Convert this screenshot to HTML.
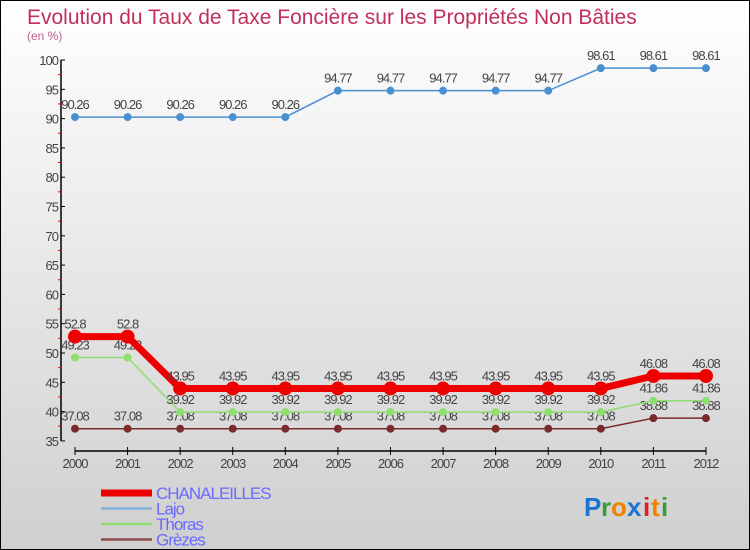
<!DOCTYPE html>
<html><head><meta charset="utf-8"><style>
body{margin:0;}
#c{position:relative;width:748px;height:548px;border:1px solid #000;background:linear-gradient(#ffffff,#cfcfcf);overflow:hidden;font-family:"Liberation Sans",sans-serif;}
</style></head><body>
<div id="c">
<svg id="s" width="748" height="548" style="position:absolute;left:0;top:0">
<text x="26" y="23" font-size="21" fill="#c0305a">Evolution du Taux de Taxe Foncière sur les Propriétés Non Bâties</text>
<text x="26" y="39" font-size="12" fill="#c0608a">(en %)</text>
<g id="axes"></g><g id="series"></g><g id="legend"></g>
<g font-size="26" font-weight="bold" font-family="Liberation Sans, sans-serif">
<text x="583" y="515" fill="#1a74d0">P</text><text x="600" y="515" fill="#3a9a3a">r</text><text x="610" y="515" fill="#f08000">o</text><text x="626" y="515" fill="#1a74d0">x</text><text x="642" y="515" fill="#e02020">i</text><text x="650" y="515" fill="#f08000">t</text><text x="660" y="515" fill="#3a9a3a">i</text>
</g>
</svg>
</div>
<script>
const years=[2000,2001,2002,2003,2004,2005,2006,2007,2008,2009,2010,2011,2012];
const chanaleilles=[52.8,52.8,43.95,43.95,43.95,43.95,43.95,43.95,43.95,43.95,43.95,46.08,46.08];
const lajo=[90.26,90.26,90.26,90.26,90.26,94.77,94.77,94.77,94.77,94.77,98.61,98.61,98.61];
const thoras=[49.23,49.23,39.92,39.92,39.92,39.92,39.92,39.92,39.92,39.92,39.92,41.86,41.86];
const grezes=[37.08,37.08,37.08,37.08,37.08,37.08,37.08,37.08,37.08,37.08,37.08,38.88,38.88];
const yTicks=[35,40,45,50,55,60,65,70,75,80,85,90,95,100];
const NS="http://www.w3.org/2000/svg";
function xs(i){return 74+i*52.58;}
function ys(v){return 59+(100-v)*5.86;}
function mk(p,t,a){const e=document.createElementNS(NS,t);for(const k in a)e.setAttribute(k,a[k]);p.appendChild(e);return e;}
const ax=document.getElementById('axes');
let l=mk(ax,'line',{x1:60,y1:ys(100),x2:60,y2:ys(35),stroke:'#000','stroke-width':1.5});


yTicks.forEach(v=>{
 mk(ax,'line',{x1:60,y1:ys(v),x2:64,y2:ys(v),stroke:'#000'});
 if(v<100)mk(ax,'line',{x1:57,y1:ys(v+2.5),x2:61,y2:ys(v+2.5),stroke:'#e00'});
 const t=mk(ax,'text',{x:57,y:ys(v)+5,'font-size':13,fill:'#444','text-anchor':'end','letter-spacing':'-1'});t.textContent=v;
 
 
});
l=mk(ax,'line',{x1:xs(0),y1:450,x2:xs(12),y2:450,stroke:'#000','stroke-width':1.5});


years.forEach((y,i)=>{
 mk(ax,'line',{x1:xs(i),y1:446,x2:xs(i),y2:454,stroke:'#000'});
 const t=mk(ax,'text',{x:xs(i),y:467,'font-size':13,fill:'#444','text-anchor':'middle','letter-spacing':'-1'});t.textContent=y;
 
 
});
const sg=document.getElementById('series');
function series(name,vals,color,w,r){
 const g=mk(sg,'g',{});
 
 
 mk(g,'polyline',{points:vals.map((v,i)=>xs(i)+','+ys(v)).join(' '),fill:'none',stroke:color,'stroke-width':w});
 vals.forEach((v,i)=>{
  const c=mk(g,'circle',{cx:xs(i),cy:ys(v),r:r,fill:color});
  
  
  const t=mk(g,'text',{x:xs(i),y:ys(v)-8,'font-size':13,fill:'#444','text-anchor':'middle','letter-spacing':'-1'});
  t.textContent=String(v);
  
  
 });
}
series('grezes',grezes,'#7a2a2a',1.5,4);
series('thoras',thoras,'#90dd70',1.5,4);
series('chanaleilles',chanaleilles,'#ee0000',7,7);
series('lajo',lajo,'#4a90d0',1.5,4);
const lg=document.getElementById('legend');
[['CHANALEILLES','#ee0000',7],['Lajo','#80b0d8',2.5],['Thoras','#90dd70',2.5],['Grèzes','#8a4a4a',2.5]].forEach((d,i)=>{
 const y=492+i*15.5;
 const ln=mk(lg,'line',{x1:100,y1:y,x2:151,y2:y,stroke:d[1],'stroke-width':d[2]});
 
 
 const t=mk(lg,'text',{x:155,y:y+6,'font-size':17,fill:'#6a6aff','letter-spacing':'-1'});t.textContent=d[0];
 
 
});
</script>
</body></html>
